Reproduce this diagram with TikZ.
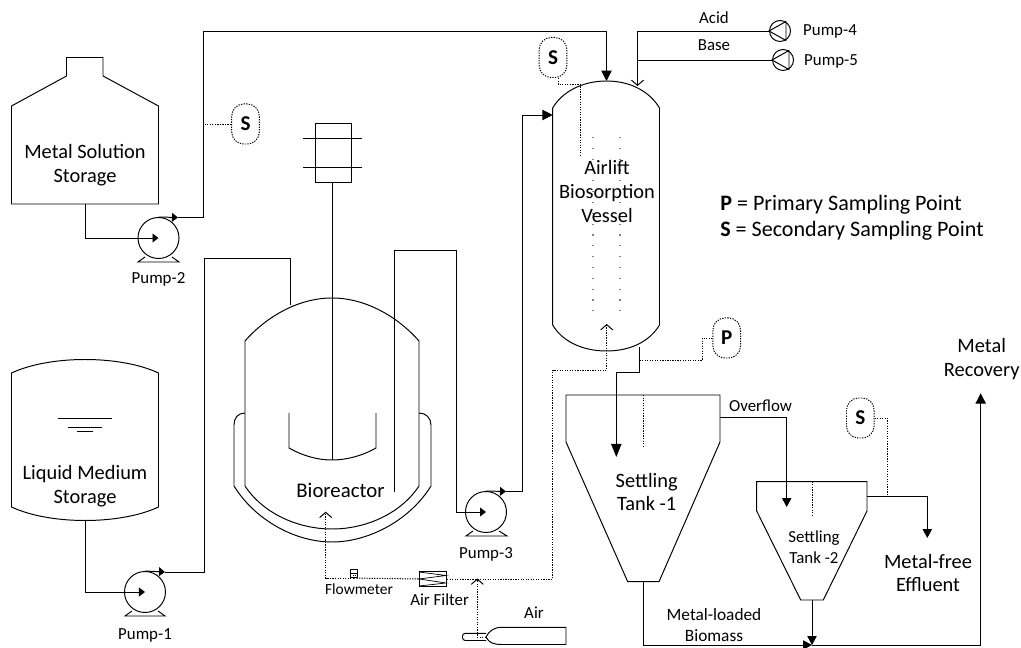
\documentclass[tikz,border=0pt]{standalone}
\usepackage{fontspec}
\setmainfont{Carlito}
\usetikzlibrary{arrows.meta}

\begin{document}
\begin{tikzpicture}[
    x=0.025cm, y=-0.025cm,
    vessel/.style={line width=0.7pt},
    pipe/.style={line width=0.7pt},
    samplingline/.style={line width=0.7pt, dash pattern=on 0.9pt off 0.9pt},
    bigtip/.style={-{Triangle[length=0.26cm, width=0.26cm]}},
    midtip/.style={-{Triangle[length=0.22cm, width=0.23cm]}},
    smalltip/.style={-{Triangle[length=0.15cm, width=0.22cm]}},
    opentip/.style={-{Straight Barb[length=0.13cm, width=0.3cm]}},
    pumpbody/.style={circle, draw, line width=0.7pt, minimum size=1.025cm, inner sep=0pt},
    dosebody/.style={circle, draw, line width=0.7pt, minimum size=0.525cm, inner sep=0pt},
    bubble/.style={draw, line width=0.7pt, dash pattern=on 0.9pt off 0.9pt, rounded corners=0.3cm,
                   minimum width=0.69cm, minimum height=1cm, inner sep=0pt,
                   font=\fontsize{15}{18}\selectfont\bfseries},
    biglabel/.style={align=center, inner sep=0pt, font=\fontsize{14.5}{17}\selectfont},
    midlabel/.style={align=center, inner sep=0pt, font=\fontsize{12}{14.6}\selectfont}
]
\useasboundingbox (0,0) rectangle (1021,648);

% Storage tanks
\draw[vessel] (11.5,204) -- (158.5,204) -- (158.5,106) -- (103,76) -- (103,57.5)
    -- (66.5,57.5) -- (66.5,76) -- (11.5,106) -- cycle;
\node[biglabel] (metallabel) at (85,165) {Metal Solution\\Storage};
\draw[vessel] (11.5,373) .. controls (50,355) and (120,355) .. (158.5,373) -- (158.5,507)
    .. controls (120,525) and (50,525) .. (11.5,507) -- cycle;
\draw[vessel] (58,418) -- (112,418);
\draw[vessel] (68,427) -- (102,427);
\draw[vessel] (77,431) -- (93,431);
\node[biglabel] (liquidlabel) at (85,486) {Liquid Medium\\Storage};
\coordinate (metalout) at (85,204);
\coordinate (liquidout) at (85,520);

% Main pumps
\node[pumpbody] (pump1) at (145,592) {};
\draw[vessel] (132,611) -- (125,616) -- (165,616) -- (158,611);
\node[midlabel] (pump1label) at (145,635) {Pump-1};
\node[pumpbody] (pump2) at (158.5,238) {};
\draw[vessel] (145,257) -- (138,262) -- (179,262) -- (172,257);
\node[midlabel] (pump2label) at (158.5,279) {Pump-2};
\node[pumpbody] (pump3) at (486,512) {};
\draw[vessel] (473,531) -- (466,536) -- (507,536) -- (499,531);
\node[midlabel] (pump3label) at (486,554) {Pump-3};
\coordinate (pump1tip) at (165,572);
\coordinate (pump2tip) at (178,217.5);
\coordinate (pump3tip) at (506,491.5);

% Bioreactor with jacket, shaft and impeller
\draw[vessel] (245,341) .. controls (268,315) and (300,298) .. (332,298)
    .. controls (364,298) and (396,315) .. (419,341) -- (419,486)
    .. controls (402,512) and (368,529) .. (332,529)
    .. controls (296,529) and (262,512) .. (245,486) -- cycle;
\draw[vessel] (245,413) .. controls (238,413) and (234,418) .. (234,425) -- (234,486)
    .. controls (255,520) and (295,542) .. (332,542)
    .. controls (369,542) and (410,520) .. (431,486) -- (431,425)
    .. controls (431,418) and (426,413) .. (419,413);
\node[draw, line width=0.7pt, minimum width=0.9cm, minimum height=1.45cm, inner sep=0pt] (motor) at (333,153) {};
\draw[vessel] (303,138) -- (362,138);
\draw[vessel] (303,167) -- (362,167);
\coordinate (impeller) at (332,460);
\draw[vessel] (motor.south -| impeller) -- (impeller);
\draw[vessel] (289,413) -- (289,448) .. controls (303,456) and (318,460) .. (impeller)
    .. controls (346,460) and (362,456) .. (376,448) -- (376,413);
\node[biglabel, font=\fontsize{14.8}{17}\selectfont] (reactorlabel) at (340.5,490) {Bioreactor};

% Airlift vessel
\draw[vessel] (552.7,108) .. controls (562,92) and (582,81) .. (606.5,81)
    .. controls (631,81) and (650,92) .. (659.5,108) -- (659.5,325)
    .. controls (650,341) and (631,351) .. (606.5,351)
    .. controls (582,351) and (562,341) .. (552.7,325) -- cycle;
\draw[gray, line width=0.8pt, dash pattern=on 0.8pt off 6.9pt] (593,137) -- (593,311);
\draw[gray, line width=0.8pt, dash pattern=on 0.8pt off 6.9pt] (620,137) -- (620,311);
\node[biglabel] (airliftlabel) at (607,191.5) {Airlift\\Biosorption\\Vessel};
\coordinate (vesseltop) at (606.5,81);
\coordinate (vesselacid) at (637.5,86);
\coordinate (vesselfeed) at (552.7,115);
\coordinate (vesselair) at (606.7,324);
\coordinate (vesselout) at (639.3,347);

% Settling tanks
\draw[vessel] (566,395) -- (720,395) -- (720,442) -- (659,581.7) -- (627.7,581.7) -- (566,442) -- cycle;
\node[biglabel] (tank1label) at (646.7,492) {Settling\\Tank -1};
\draw[vessel] (756.7,481.7) -- (867,481.7) -- (867,511) -- (823.3,600) -- (800.7,600) -- (756.7,511) -- cycle;
\node[midlabel] (tank2label) at (814,547) {Settling\\Tank -2};
\draw[samplingline] (643,395) -- (643,448);
\draw[samplingline] (812.3,481.7) -- (812.3,517);
\coordinate (tank1in) at (616.3,457);
\coordinate (tank1over) at (720,417.7);
\coordinate (tank1out) at (643,581.7);
\coordinate (tank2in) at (786.7,507);
\coordinate (tank2over) at (867,496.7);
\coordinate (tank2out) at (812,600);

% Liquid lines
\draw[pipe, smalltip] (metalout) |- (pump2.center);
\draw[pipe, smalltip] (pump2.north) -- (pump2tip);
\draw[pipe, bigtip] (pump2tip) -| (203,31) -| (vesseltop);
\draw[pipe, smalltip] (liquidout) |- (pump1.center);
\draw[pipe, smalltip] (pump1.north) -- (pump1tip);
\draw[pipe] (pump1tip) -| (204,258) -| (290,305);
\draw[pipe, smalltip] (394.7,491.7) |- (456,250) |- (pump3.center);
\draw[pipe, smalltip] (pump3.north) -- (pump3tip);
\draw[pipe, bigtip] (pump3tip) -| (522.7,115) -- (vesselfeed);
\draw[pipe, -{Triangle[length=0.33cm, width=0.26cm]}] (vesselout) |- (616.3,372) -- (tank1in);
\draw[pipe, midtip] (tank1over) -| (tank2in);
\draw[pipe, midtip] (tank2over) -| (927.3,538);
\coordinate (recovery) at (980.7,393.3);
\coordinate (biomassjoin) at (812,645);
\draw[pipe, midtip] (tank1out) |- (biomassjoin);
\draw[pipe, midtip] (tank2out) -- (biomassjoin);
\draw[pipe, bigtip] (biomassjoin) -| (recovery);

% Acid and base dosing
\node[dosebody] (pump4) at (780,31) {};
\draw[vessel] (pump4.west) -- (786,21.5) -- (786,40.5) -- cycle;
\node[dosebody] (pump5) at (783,60) {};
\draw[vessel] (pump5.west) -- (789,50.5) -- (789,69.5) -- cycle;
\draw[pipe, opentip] (pump4.west) -- (637.5,31) -- (vesselacid);
\draw[pipe] (pump5.west) -- (637.5,60);
\node[midlabel] (acidlabel) at (714,18) {Acid};
\node[midlabel] (baselabel) at (714,45) {Base};
\node[midlabel] (pump4label) at (830,31) {Pump-4};
\node[midlabel] (pump5label) at (831,61) {Pump-5};

% Air line
\node[draw, line width=0.7pt, minimum width=0.69cm, minimum height=0.37cm, inner sep=0pt] (filter) at (432.8,579) {};
\draw[line width=0.5pt] (419,572) -- (446,575.5) -- (419,579) -- (446,583) -- (419,586);
\node[draw, line width=0.5pt, minimum width=0.16cm, minimum height=0.21cm, inner sep=0pt] (flowmeter) at (354,573.5) {};
\draw[line width=0.5pt] (flowmeter.west) -- (flowmeter.east);
\fill (352.7,575.2) rectangle (354,576.5);
\fill (355,575.2) rectangle (356.3,576.5);
\draw[samplingline, opentip] (filter.east) -- (552.7,579) |- (606.7,370) -- (vesselair);
\draw[samplingline] (filter.west) -- (flowmeter.south);
\coordinate (reactorair) at (325.7,511.7);
\draw[samplingline, opentip] (flowmeter.south) -| (reactorair);
\node[midlabel, font=\fontsize{11}{13}\selectfont] (flowlabel) at (359,589) {Flowmeter};
\node[midlabel] (filterlabel) at (439.6,600) {Air Filter};
\draw[vessel, rounded corners=0.07cm] (486,633.3) -- (462.5,633.3) -- (462.5,640.5) -- (486,640.5);
\draw[vessel] (486,637) .. controls (489,631) and (494,627.3) .. (502,627.3) -- (566,627.3) -- (566,644.5)
    -- (502,644.5) .. controls (494,644.5) and (489,643) .. (486,637);
\coordinate (bottleout) at (486,637);
\draw[samplingline, opentip] (bottleout) -| (477.3,578.5);
\node[midlabel] (airlabel) at (534,613) {Air};

% Sampling points
\node[bubble] (samples1) at (245.5,124) {S};
\draw[samplingline] (samples1.west) -- (203,124) -- (203,110);
\node[bubble] (samples2) at (553,57.5) {S};
\draw[samplingline] (558,78) -- (558,84) -- (580,84) -- (580,155);
\node[bubble] (samplep) at (726.7,338) {P};
\draw[samplingline] (samplep.west) -- (702.3,338) |- (639.5,360);
\node[bubble] (samples3) at (860.3,418) {S};
\draw[samplingline] (samples3.east) -- (887.3,418) -- (887.3,496.7);

% Product and effluent labels
\node[midlabel] (overflowlabel) at (760.5,405.5) {Overflow};
\node[biglabel] (effluentlabel) at (928,573) {Metal-free\\Effluent};
\node[biglabel] (recoverylabel) at (981.7,359) {Metal\\Recovery};
\node[midlabel, font=\fontsize{12.3}{15}\selectfont] (biomasslabel) at (714,625.5) {Metal-loaded\\Biomass};

% Key
\node[biglabel, anchor=west, font=\fontsize{15.7}{18}\selectfont] (keyp) at (720,205) {\textbf{P} = Primary Sampling Point};
\node[biglabel, anchor=west, font=\fontsize{15.7}{18}\selectfont] (keys) at (720,231) {\textbf{S} = Secondary Sampling Point};

\end{tikzpicture}
\end{document}
